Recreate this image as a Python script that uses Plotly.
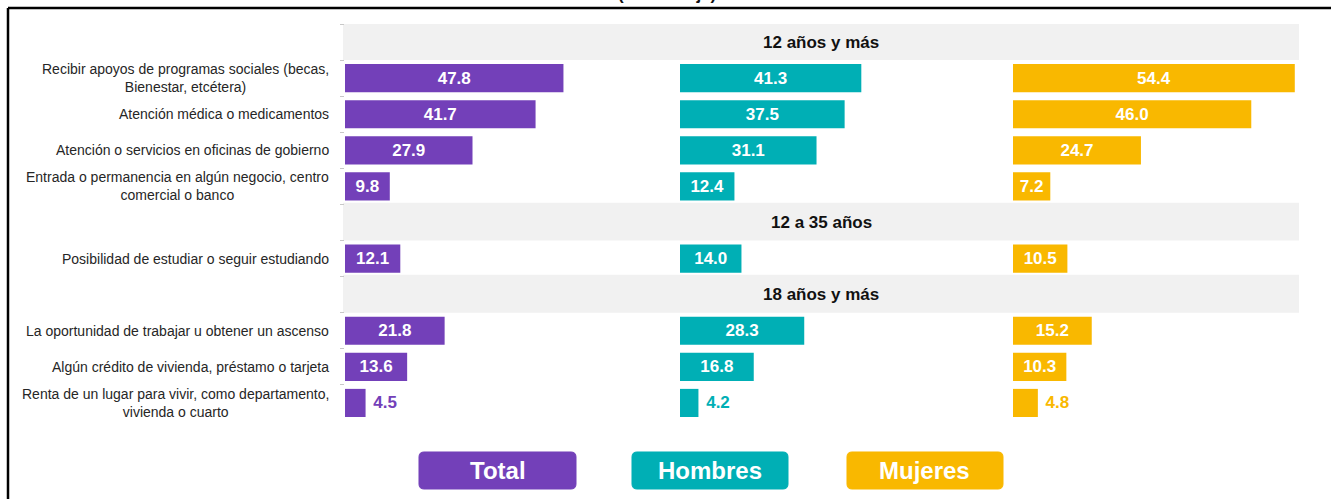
import plotly.graph_objects as go

# ---------------- data ----------------
categories = [
    "Recibir apoyos de programas sociales (becas,<br>Bienestar, etcétera)",
    "Atención médica o medicamentos",
    "Atención o servicios en oficinas de gobierno",
    "Entrada o permanencia en algún negocio, centro<br>comercial o banco",
    "Posibilidad de estudiar o seguir estudiando",
    "La oportunidad de trabajar u obtener un ascenso",
    "Algún crédito de vivienda, préstamo o tarjeta",
    "Renta de un lugar para vivir, como departamento,<br>vivienda o cuarto",
]
groups = ["12 años y más", "12 a 35 años", "18 años y más"]
group_of = [0, 0, 0, 0, 1, 2, 2, 2]
total = [47.8, 41.7, 27.9, 9.8, 12.1, 21.8, 13.6, 4.5]
hombres = [41.3, 37.5, 31.1, 12.4, 14.0, 28.3, 16.8, 4.2]
mujeres = [54.4, 46.0, 24.7, 7.2, 10.5, 15.2, 10.3, 4.8]
series_names = ["Total", "Hombres", "Mujeres"]
colors = ["#7340B9", "#00AFB5", "#F9B800"]

FONT = "Liberation Sans Narrow, Arial Narrow, Liberation Sans, Arial, sans-serif"
W, H = 1331, 499

def px(x):
    return x / W

def py(y):
    return 1 - y / H

# y order: headers interleaved with categories
order = []
last_g = None
for c, g in zip(categories, group_of):
    if g != last_g:
        order.append(("h", groups[g]))
        last_g = g
    order.append(("c", c))
y_cats = [v for _, v in order]

fig = go.Figure()
axes = ["x", "x2", "x3"]
for name, vals, col, ax in zip(series_names, [total, hombres, mujeres], colors, axes):
    pos = ["outside" if v < 6 else "inside" for v in vals]
    txt = [("\u00a0" if v < 6 else "") + f"{v:.1f}" for v in vals]
    fig.add_trace(go.Bar(
        x=vals, y=categories, orientation="h", name=name,
        marker=dict(color=col, line=dict(width=0)),
        width=0.78,
        text=txt, textposition=pos,
        insidetextanchor="middle", constraintext="none",
        insidetextfont=dict(color="white", size=17, family=FONT, weight="bold"),
        outsidetextfont=dict(color=col, size=17, family=FONT, weight="bold"),
        cliponaxis=False, xaxis=ax, yaxis="y", showlegend=False,
    ))

# header bands
shapes = []
annotations = []
for kind, v in order:
    if kind == "h":
        idx = y_cats.index(v)
        shapes.append(dict(type="rect", xref="paper", yref="y", x0=px(343), x1=px(1299),
                           y0=idx - 0.55, y1=idx + 0.5, fillcolor="#F1F1F1",
                           line=dict(width=0), layer="below"))
        annotations.append(dict(text=f"<b>{v}</b>", xref="paper", yref="y", x=px(821), y=v,
                                xanchor="center", yanchor="middle",
                                showarrow=False, font=dict(size=17, family=FONT, color="#111111")))
    else:
        annotations.append(dict(text=v, xref="paper", yref="y", x=px(331), y=v,
                                xanchor="right", yanchor="middle", align="center", showarrow=False,
                                font=dict(size=14, family=FONT, color="#262626")))

# legend boxes
legend_x = [(419, 576), (632, 788), (847, 1003)]
for (x0, x1), name, col in zip(legend_x, series_names, colors):
    r = 5
    y0, y1 = 452, 489
    pts = [("M", x0 + r, y0), ("L", x1 - r, y0), ("Q", x1, y0), ("", x1, y0 + r),
           ("L", x1, y1 - r), ("Q", x1, y1), ("", x1 - r, y1), ("L", x0 + r, y1),
           ("Q", x0, y1), ("", x0, y1 - r), ("L", x0, y0 + r), ("Q", x0, y0), ("", x0 + r, y0)]
    path = " ".join(f"{c} {px(a):.5f},{py(b):.5f}".strip() for c, a, b in pts) + " Z"
    shapes.append(dict(type="path", xref="paper", yref="paper", path=path,
                       fillcolor=col, line=dict(color=col, width=1)))
    annotations.append(dict(text=f"<b>{name}</b>", xref="paper", yref="paper",
                            x=px((x0 + x1) / 2), y=py((y0 + y1) / 2),
                            xanchor="center", yanchor="middle", showarrow=False,
                            font=dict(size=24, family=FONT, color="white")))

# frame lines
shapes.append(dict(type="line", xref="paper", yref="paper", x0=px(8), x1=1, y0=py(8), y1=py(8),
                   line=dict(color="#000000", width=2.5)))
shapes.append(dict(type="line", xref="paper", yref="paper", x0=px(8), x1=px(8), y0=py(8), y1=0,
                   line=dict(color="#000000", width=2.5)))

# title (cut off at the top edge, as in the reference)
annotations.append(dict(text="<b>(Porcentaje)</b>", xref="paper", yref="paper", x=px(667),
                        y=py(6), xanchor="center", yanchor="bottom", showarrow=False,
                        font=dict(size=17, family=FONT, color="#111111")))

fig.update_layout(
    width=W, height=H, margin=dict(l=0, r=0, t=0, b=0),
    paper_bgcolor="white", plot_bgcolor="white",
    bargap=0.2, shapes=shapes, annotations=annotations,
    xaxis=dict(domain=[px(345), px(665)], range=[0, 320 / 4.57], visible=False, fixedrange=True),
    xaxis2=dict(domain=[px(680), px(1000)], range=[0, 320 / 4.39], visible=False, fixedrange=True),
    xaxis3=dict(domain=[px(1013), px(1299)], range=[0, 286 / 5.18], visible=False, fixedrange=True),
    yaxis=dict(domain=[py(421), py(24)], categoryorder="array", categoryarray=y_cats,
               type="category", range=[len(y_cats) - 0.5, -0.5], showticklabels=False,
               ticks="outside", tickson="boundaries", ticklen=4, tickcolor="#C8C8C8",
               showgrid=False, zeroline=False, showline=False, anchor="x", fixedrange=True),
)

fig.write_html("out.html", config={"displayModeBar": False},
               post_script="document.body.style.margin='0';")
